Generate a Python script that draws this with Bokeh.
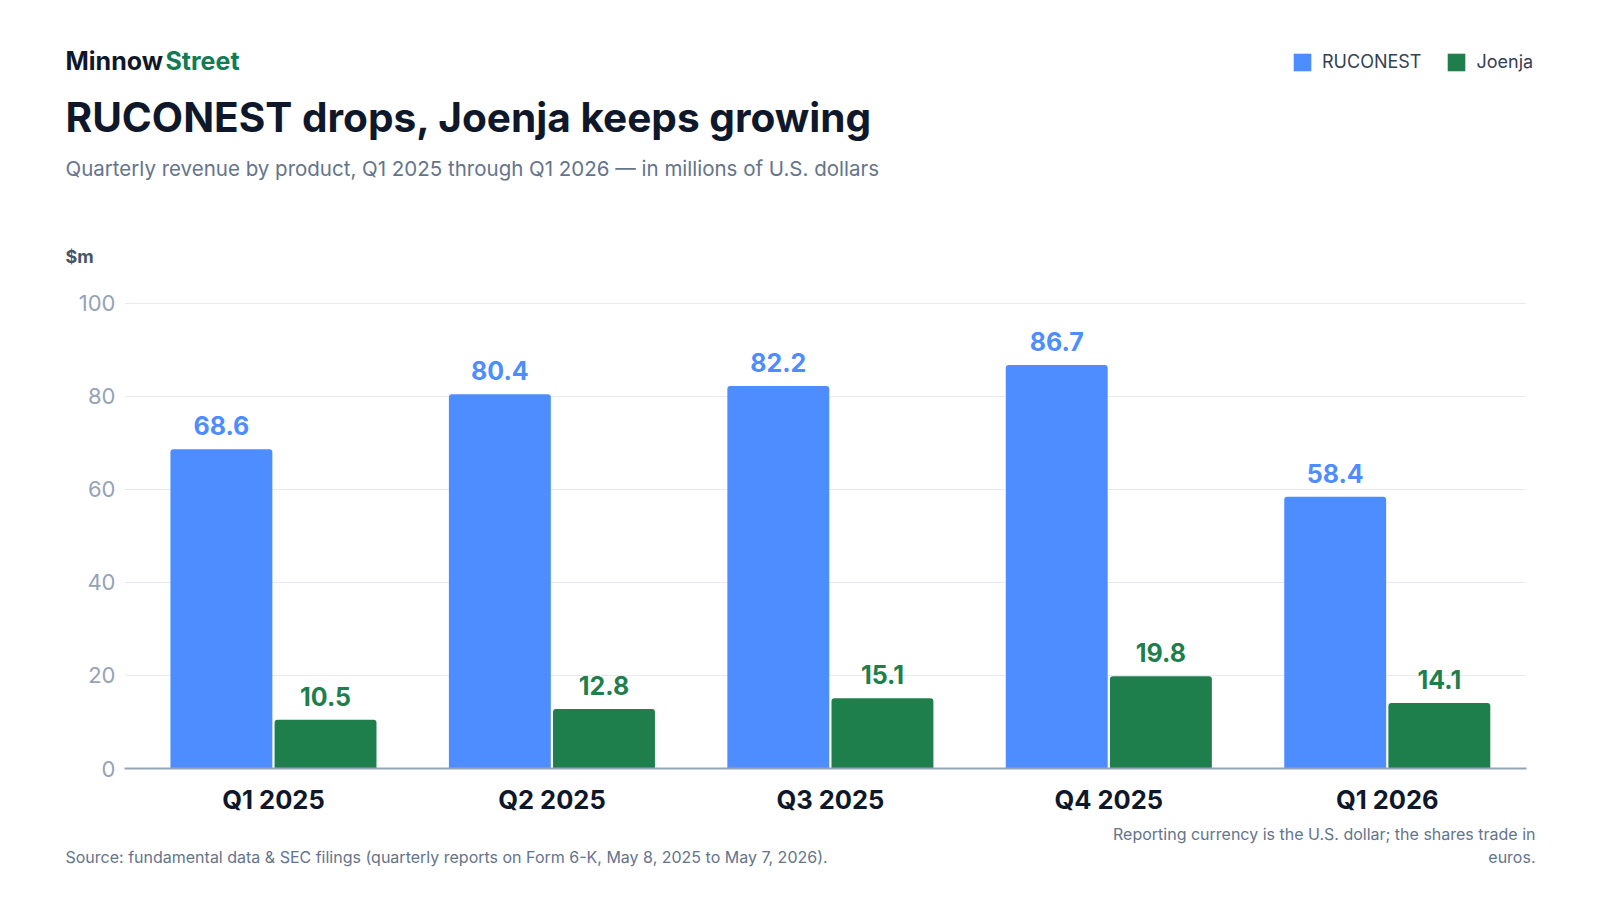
from bokeh.plotting import figure
from bokeh.models import (ColumnDataSource, Range1d, FixedTicker, LabelSet, Label,
                          Legend, LegendItem)
from bokeh.layouts import column
from bokeh.transform import dodge
from bokeh.core.properties import value
from bokeh.embed import file_html
from bokeh.resources import INLINE

# ---- data ----
quarters = ["Q1 2025", "Q2 2025", "Q3 2025", "Q4 2025", "Q1 2026"]
ruconest = [68.6, 80.4, 82.2, 86.7, 58.4]
joenja = [10.5, 12.8, 15.1, 19.8, 14.1]
y_ticks = [0, 20, 40, 60, 80, 100]

BLUE = "#4d8dff"
GREEN = "#1e7f4c"
FONT = "Inter"
W = 1600
HEAD_H, MAIN_H, FOOT_H = 280, 540, 80
TOP_PAD = 18

pos = list(range(len(quarters)))
src = ColumnDataSource(dict(
    x=pos, q=quarters, r=ruconest, j=joenja,
    rl=[f"{v:.1f}" for v in ruconest], jl=[f"{v:.1f}" for v in joenja],
))

def blank(h):
    f = figure(width=W, height=h, output_backend="svg", toolbar_location=None,
               title=None, x_range=Range1d(0, W), y_range=Range1d(0, h),
               x_axis_type=None, y_axis_type=None, min_border=0,
               border_fill_color="white", background_fill_color="white")
    f.outline_line_color = None
    f.grid.visible = False
    f.frame_align = False
    return f

# ---- main chart ----
p = figure(width=W, height=MAIN_H, output_backend="svg", toolbar_location=None,
           title=None, x_range=Range1d(-0.535, len(quarters) - 0.5),
           y_range=Range1d(0, 101),
           min_border_left=124, min_border_right=74,
           min_border_top=TOP_PAD, min_border_bottom=52,
           background_fill_color="white", border_fill_color="white")
p.outline_line_color = None
p.frame_align = False

bw = 0.366
off = 0.187
rb = p.vbar(x=dodge("x", -off, range=p.x_range), top="r", width=bw, source=src,
            fill_color=BLUE, line_color=None, border_radius=(3, 3, 0, 0))
jb = p.vbar(x=dodge("x", off, range=p.x_range), top="j", width=bw, source=src,
            fill_color=GREEN, line_color=None, border_radius=(3, 3, 0, 0))

for col, lcol, c in (("r", "rl", BLUE), ("j", "jl", GREEN)):
    p.add_layout(LabelSet(x=dodge("x", -off if col == "r" else off, range=p.x_range),
                          y=col, text=lcol, source=src,
                          y_offset=14, text_align="center", text_baseline="alphabetic",
                          text_font=value(FONT), text_font_size="25px",
                          text_font_style="bold", text_color=c))

p.xaxis.ticker = FixedTicker(ticks=pos)
p.xaxis.major_label_overrides = {i: q for i, q in zip(pos, quarters)}
p.xaxis.major_label_text_font = FONT
p.xaxis.major_label_text_font_size = "25.5px"
p.xaxis.major_label_text_font_style = "bold"
p.xaxis.major_label_text_color = "#0f172a"
p.xaxis.major_label_standoff = 9
p.xaxis.major_tick_line_color = None
p.xaxis.minor_tick_line_color = None
p.xaxis.axis_line_color = "#94a3b8"
p.xaxis.axis_line_width = 2

p.yaxis.ticker = FixedTicker(ticks=y_ticks)
p.yaxis.major_label_text_font = FONT
p.yaxis.major_label_text_font_size = "22px"
p.yaxis.major_label_text_color = "#94a3b8"
p.yaxis.major_label_standoff = 9
p.yaxis.major_tick_out = 0
p.yaxis.major_tick_line_color = None
p.yaxis.minor_tick_line_color = None
p.yaxis.axis_line_color = None

p.xgrid.grid_line_color = None
p.ygrid.grid_line_color = "#e8eaef"
p.ygrid.grid_line_width = 1

# ---- header ----
head = blank(HEAD_H)

def lab(f, fh, text, X, Y, size, color, style="normal", align="left"):
    px = float(size.replace("px", ""))
    f.add_layout(Label(x=X, y=fh - Y + 0.42 * px, text=text, text_font=FONT,
                       text_font_size=size, text_font_style=style, text_color=color,
                       text_align=align, text_baseline="alphabetic"))

lab(head, HEAD_H, "Minnow", 65, 71, "25px", "#0f172a", "bold")
lab(head, HEAD_H, "Street", 165, 71, "25px", "#127a54", "bold")
lab(head, HEAD_H, "RUCONEST drops, Joenja keeps growing", 65, 134, "40.6px", "#0f172a", "bold")
lab(head, HEAD_H, "Quarterly revenue by product, Q1 2025 through Q1 2026 \u2014 in millions of U.S. dollars",
    65, 177, "20.5px", "#64748b")
lab(head, HEAD_H, "$m", 65, 264, "18px", "#475569", "bold")

# legend swatches: off-canvas one-row renderers carrying the series styles
lr = head.vbar(x=[-50], top=[-50], width=1, fill_color=BLUE, line_color=None)
lj = head.vbar(x=[-50], top=[-50], width=1, fill_color=GREEN, line_color=None)
legend = Legend(items=[LegendItem(label="RUCONEST", renderers=[lr]),
                       LegendItem(label="Joenja", renderers=[lj])],
                orientation="horizontal", location=(1291, HEAD_H - 72.5),
                glyph_width=22, glyph_height=22, label_standoff=9, spacing=24,
                padding=0, margin=0, border_line_color=None,
                background_fill_alpha=0, label_text_font=FONT,
                label_text_font_size="18px", label_text_color="#334155",
                label_height=18)
head.add_layout(legend)

# ---- footer ----
foot = blank(FOOT_H)
FT = HEAD_H + MAIN_H
def flab(text, X, Y, align="left"):
    lab(foot, FOOT_H, text, X, Y - FT, "16px", "#64748b", align=align)

flab("Source: fundamental data & SEC filings (quarterly reports on Form 6-K, May 8, 2025 to May 7, 2026).",
     65, 863)
flab("Reporting currency is the U.S. dollar; the shares trade in", 1535, 840, "right")
flab("euros.", 1535, 863, "right")

layout = column(head, p, foot, spacing=0)
open("out.html", "w").write(file_html(layout, INLINE))
